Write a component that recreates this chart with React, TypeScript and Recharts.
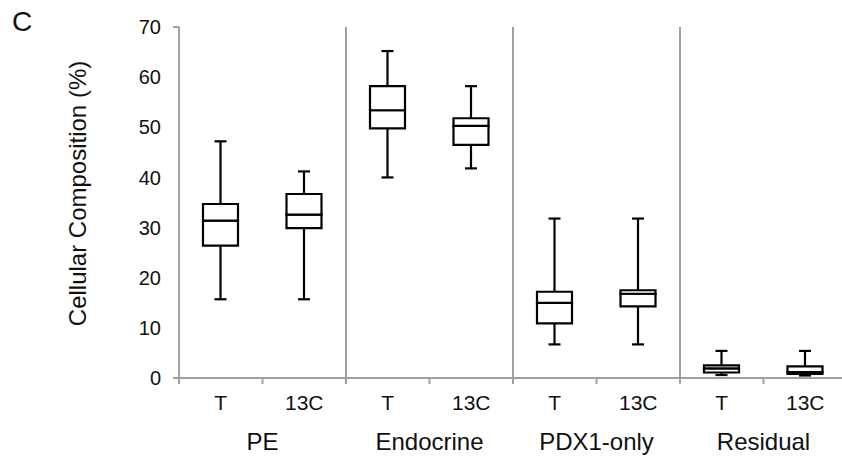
import { ComposedChart, Bar, XAxis, YAxis, ReferenceLine } from 'recharts';

const groups = ['PE', 'Endocrine', 'PDX1-only', 'Residual'];
const treatments = ['T', '13C'];

// box stats per category, order: PE T, PE 13C, Endocrine T, ...
const mins = [15.7, 15.7, 40.0, 41.8, 6.7, 6.7, 0.6, 0.5];
const q1s = [26.4, 29.9, 49.8, 46.5, 10.9, 14.3, 1.1, 0.8];
const medians = [31.4, 32.6, 53.4, 50.3, 15.0, 16.8, 1.9, 1.2];
const q3s = [34.7, 36.7, 58.2, 51.8, 17.2, 17.5, 2.5, 2.3];
const maxs = [47.2, 41.2, 65.2, 58.2, 31.8, 31.8, 5.4, 5.4];

const yTicks = [0, 10, 20, 30, 40, 50, 60, 70];

const data = mins.map((min, i) => {
  const group = groups[Math.floor(i / 2)];
  const label = treatments[i % 2];
  return {
    id: `${group}-${label}`,
    group,
    label,
    base: min,
    lowWhisker: q1s[i] - min,
    lowBox: medians[i] - q1s[i],
    highBox: q3s[i] - medians[i],
    highWhisker: maxs[i] - q3s[i],
  };
});

const INK = '#000';
const AXIS = '#a0a0a0';
const LW = 2.2;
const CAP = 6;

const LowWhisker = (props: any) => {
  const { x, y, width, height } = props;
  const cx = x + width / 2;
  return (
    <g>
      <line x1={cx} x2={cx} y1={y} y2={y + height} stroke={INK} strokeWidth={LW} />
      <line x1={cx - CAP} x2={cx + CAP} y1={y + height} y2={y + height} stroke={INK} strokeWidth={LW} />
    </g>
  );
};

const HighWhisker = (props: any) => {
  const { x, y, width, height } = props;
  const cx = x + width / 2;
  return (
    <g>
      <line x1={cx} x2={cx} y1={y} y2={y + height} stroke={INK} strokeWidth={LW} />
      <line x1={cx - CAP} x2={cx + CAP} y1={y} y2={y} stroke={INK} strokeWidth={LW} />
    </g>
  );
};

const boxPart = (props: any) => {
  const { x, y, width, height } = props;
  const top = Math.min(y, y + height);
  const bottom = Math.max(y, y + height);
  const d = `M${x},${top}H${x + width}V${bottom}H${x}Z`;
  return <path d={d} fill="#fff" stroke={INK} strokeWidth={LW} />;
};

const Empty = () => null;

const XTick = (props: any) => {
  const { x, y, payload, index } = props;
  const half = payload.offset ?? 41.75;
  const row = data[index];
  return (
    <g>
      <line x1={x - half} x2={x - half} y1={y} y2={y + 6} stroke={AXIS} strokeWidth={2} />
      <text x={x} y={y + 32} textAnchor="middle" fontSize={21} fill="#111">
        {row.label}
      </text>
      {index % 2 === 0 && (
        <text x={x + half} y={y + 72} textAnchor="middle" fontSize={24} fill="#111">
          {row.group}
        </text>
      )}
    </g>
  );
};

const YTick = (props: any) => {
  const { x, y, payload, index, visibleTicksCount } = props;
  const edge = index === 0 || index === visibleTicksCount - 1;
  return (
    <g>
      {edge && <line x1={x + 12} x2={x + 18} y1={y} y2={y} stroke={AXIS} strokeWidth={2} />}
      <text x={x} y={y} dy="0.36em" textAnchor="end" fontSize={20} fill="#111">
        {payload.value}
      </text>
    </g>
  );
};

const YTitle = (props: any) => {
  const { viewBox } = props;
  const cx = viewBox.x + 77;
  const cy = viewBox.y + viewBox.height / 2 - 9;
  return (
    <text
      x={cx}
      y={cy}
      transform={`rotate(-90, ${cx}, ${cy})`}
      textAnchor="middle"
      dominantBaseline="central"
      fontSize={24}
      fill="#111"
    >
      Cellular Composition (%)
    </text>
  );
};

export default function App() {
  return (
    <div
      style={{
        position: 'absolute',
        left: 0,
        top: 0,
        width: 842,
        height: 459,
        overflow: 'hidden',
        background: '#fff',
        fontFamily: '"Liberation Sans", Arial, sans-serif',
      }}
    >
      <div style={{ position: 'absolute', left: 12, top: 6, fontSize: 28, lineHeight: 'normal', color: '#111' }}>C</div>
      <ComposedChart
        width={862}
        height={459}
        data={data}
        margin={{ top: 27, right: 15, bottom: 0, left: 0 }}
        barSize={35}
      >
        <XAxis
          dataKey="id"
          height={81}
          interval={0}
          tickSize={0}
          tickMargin={0}
          tick={<XTick />}
          axisLine={{ stroke: AXIS, strokeWidth: 2 }}
        />
        <YAxis
          width={179}
          domain={[0, 70]}
          ticks={yTicks}
          interval={0}
          tickLine={false}
          tickSize={6}
          tickMargin={12}
          tick={<YTick />}
          axisLine={{ stroke: AXIS, strokeWidth: 2 }}
          label={<YTitle />}
        />
        <ReferenceLine x="PE-13C" position="end" stroke={AXIS} strokeWidth={2} />
        <ReferenceLine x="Endocrine-13C" position="end" stroke={AXIS} strokeWidth={2} />
        <ReferenceLine x="PDX1-only-13C" position="end" stroke={AXIS} strokeWidth={2} />
        <Bar dataKey="base" stackId="box" shape={<Empty />} isAnimationActive={false} />
        <Bar dataKey="lowWhisker" stackId="box" shape={<LowWhisker />} isAnimationActive={false} />
        <Bar dataKey="lowBox" stackId="box" shape={boxPart} isAnimationActive={false} />
        <Bar dataKey="highBox" stackId="box" shape={boxPart} isAnimationActive={false} />
        <Bar dataKey="highWhisker" stackId="box" shape={<HighWhisker />} isAnimationActive={false} />
      </ComposedChart>
    </div>
  );
}
